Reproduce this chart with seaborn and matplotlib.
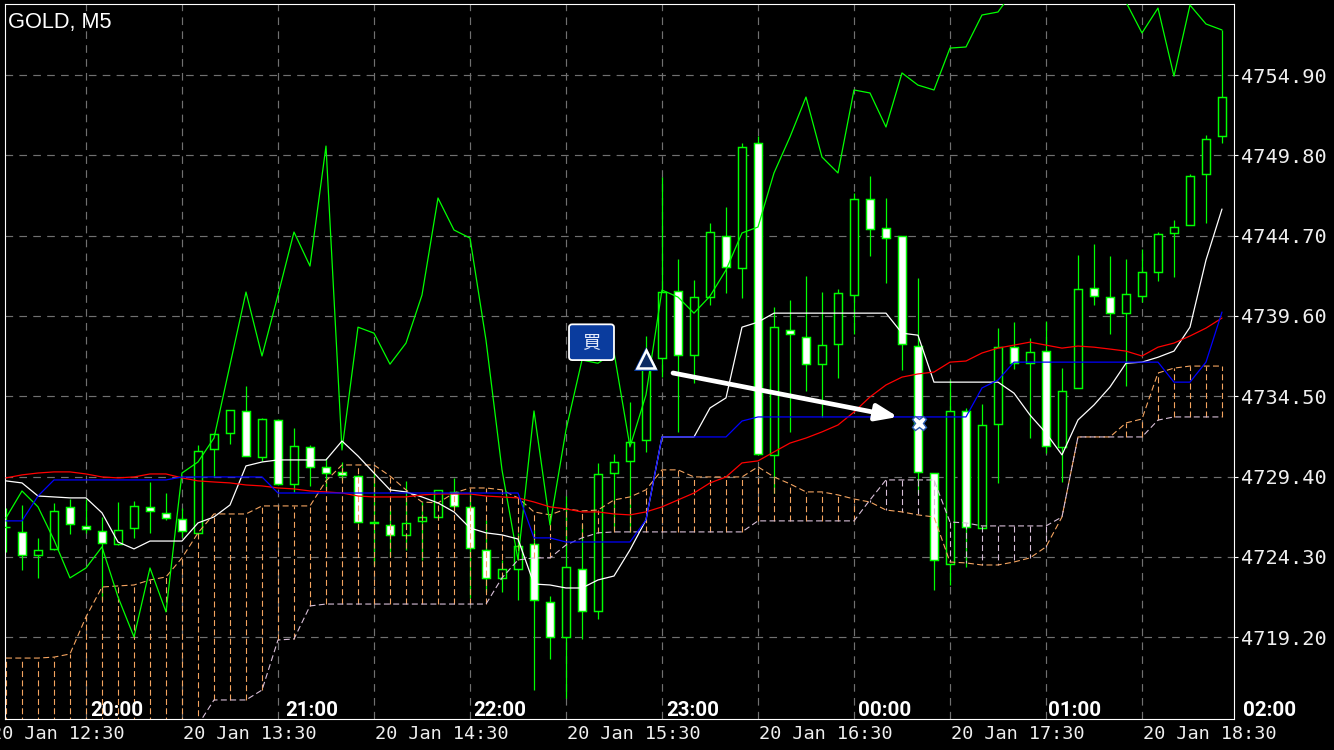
import matplotlib
matplotlib.use('Agg')
import matplotlib.pyplot as plt
from matplotlib.patches import FancyBboxPatch
import numpy as np
import pandas as pd
import seaborn as sns

# GOLD M5 candles, oldest first
open_prices = [
    4726.21, 4725.89, 4724.43, 4724.81, 4727.48, 4726.27, 4725.95, 4725.13, 4726.14, 4727.48, 4727.10,
    4726.71, 4725.83, 4731.16, 4732.17, 4733.57, 4730.65, 4733.00, 4728.94, 4731.29, 4730.02,
    4729.70, 4729.44, 4726.52, 4726.33, 4725.70, 4726.59, 4726.84, 4728.43, 4727.48, 4724.75,
    4722.97, 4723.54, 4725.13, 4721.44, 4719.22, 4723.54, 4720.87, 4729.63, 4730.40, 4731.73,
    4736.93, 4741.18, 4737.12, 4740.80, 4744.67, 4742.65, 4750.58, 4730.78, 4738.70, 4738.25,
    4736.54, 4737.82, 4740.93, 4747.02, 4745.18, 4744.67, 4737.69, 4729.63, 4723.86, 4733.57,
    4726.14, 4732.75, 4737.62, 4736.60, 4737.37, 4731.29, 4735.03, 4741.37, 4740.80, 4739.78,
    4740.86, 4742.39, 4744.87, 4745.37, 4748.61, 4751.02]
high_prices = [
    4727.41, 4727.60, 4725.51, 4727.73, 4727.98, 4727.98, 4726.84, 4727.79, 4727.86, 4729.06, 4728.36,
    4727.41, 4731.41, 4732.17, 4733.63, 4735.15, 4733.13, 4733.06, 4732.49, 4731.41, 4730.59,
    4730.33, 4729.51, 4729.83, 4727.28, 4729.13, 4727.79, 4728.56, 4729.32, 4728.56, 4726.65,
    4724.11, 4725.83, 4726.02, 4721.83, 4728.17, 4726.40, 4730.27, 4730.84, 4734.14, 4738.32,
    4748.42, 4743.21, 4741.88, 4745.50, 4746.52, 4750.58, 4751.02, 4740.17, 4740.61, 4742.14,
    4741.12, 4741.31, 4747.40, 4748.49, 4747.09, 4744.67, 4742.01, 4729.63, 4735.53, 4733.76,
    4734.02, 4738.83, 4739.21, 4738.19, 4739.28, 4736.29, 4743.47, 4744.17, 4743.41, 4743.21,
    4743.85, 4744.93, 4745.69, 4748.61, 4751.09, 4757.76]
low_prices = [
    4724.62, 4723.48, 4722.97, 4724.75, 4725.76, 4725.83, 4721.57, 4725.06, 4725.51, 4725.83, 4726.65,
    4725.57, 4725.70, 4729.38, 4731.47, 4730.71, 4730.40, 4728.87, 4728.43, 4728.81, 4728.56,
    4729.19, 4726.46, 4723.79, 4724.30, 4724.75, 4724.11, 4726.78, 4727.48, 4721.70, 4722.08,
    4722.08, 4721.57, 4715.85, 4717.82, 4715.35, 4719.09, 4720.36, 4726.02, 4725.89, 4730.97,
    4735.72, 4732.24, 4735.34, 4740.29, 4741.06, 4740.74, 4730.78, 4728.36, 4732.24, 4734.84,
    4733.19, 4735.66, 4738.45, 4743.41, 4741.69, 4736.17, 4728.36, 4722.21, 4722.52, 4723.67,
    4726.14, 4729.00, 4736.22, 4731.85, 4730.90, 4729.06, 4735.03, 4740.29, 4738.45, 4735.15,
    4740.48, 4741.82, 4742.07, 4745.37, 4745.50, 4750.58]
close_prices = [
    4726.21, 4724.43, 4724.75, 4727.22, 4726.40, 4726.08, 4725.19, 4726.02, 4727.54, 4727.22, 4726.78,
    4725.95, 4731.03, 4732.11, 4733.63, 4730.71, 4733.06, 4728.94, 4731.35, 4730.02, 4729.63,
    4729.51, 4726.52, 4726.46, 4725.70, 4726.46, 4726.84, 4728.56, 4727.54, 4724.87, 4722.97,
    4723.54, 4725.00, 4721.57, 4719.22, 4723.67, 4720.87, 4729.57, 4730.33, 4731.60, 4736.80,
    4741.12, 4737.12, 4740.80, 4744.93, 4742.71, 4750.33, 4730.84, 4738.89, 4738.45, 4736.54,
    4737.75, 4741.06, 4747.02, 4745.12, 4744.55, 4737.82, 4729.70, 4724.11, 4733.57, 4726.21,
    4732.68, 4737.62, 4736.60, 4737.30, 4731.35, 4734.84, 4741.31, 4740.86, 4739.78, 4740.99,
    4742.39, 4744.80, 4745.25, 4748.49, 4750.83, 4753.50]

# Indicator lines
green_line = [
    4726.78, 4728.49, 4727.48, 4725.38, 4722.97, 4723.60, 4724.94, 4721.76, 4719.22, 4723.60, 4720.81,
    4729.63, 4730.33, 4731.85, 4736.49, 4741.12, 4737.06, 4740.93, 4744.93, 4742.77, 4750.39,
    4731.09, 4738.89, 4738.51, 4736.54, 4737.88, 4740.93, 4747.09, 4745.06, 4744.55, 4738.07,
    4729.83, 4724.11, 4733.57, 4726.33, 4732.36, 4736.80, 4736.60, 4737.30, 4731.29, 4734.59,
    4741.25, 4740.80, 4739.78, 4740.86, 4742.52, 4744.87, 4745.25, 4748.68, 4750.97, 4753.50,
    4749.69, 4748.68, 4753.95, 4753.76, 4751.60, 4755.03, 4754.26, 4753.95, 4756.61, 4756.68,
    4758.71, 4758.90, 4760.30, 4760.80, 4761.20, 4761.00, 4760.60, 4760.90, 4760.50, 4759.53,
    4757.57, 4759.15, 4754.83, 4759.34, 4758.14, 4757.76]
white_line = [
    4729.13, 4729.00, 4728.17, 4728.11, 4728.05, 4728.05, 4727.10, 4725.25, 4724.81, 4725.31, 4725.31,
    4725.31, 4726.46, 4726.84, 4727.60, 4730.08, 4730.33, 4730.46, 4730.46, 4730.46, 4730.46,
    4731.66, 4730.71, 4729.63, 4728.56, 4728.43, 4728.11, 4727.73, 4727.16, 4726.14, 4725.83,
    4725.70, 4725.44, 4722.58, 4722.52, 4722.33, 4722.33, 4722.84, 4723.09, 4724.75, 4726.65,
    4731.92, 4731.92, 4731.92, 4733.76, 4734.40, 4738.89, 4739.21, 4739.78, 4739.78, 4739.78,
    4739.78, 4739.78, 4739.78, 4739.78, 4739.78, 4738.51, 4738.38, 4735.40, 4735.40, 4735.40,
    4735.40, 4735.40, 4734.70, 4733.31, 4732.17, 4730.78, 4733.00, 4733.95, 4735.09, 4736.60,
    4736.67, 4736.98, 4737.37, 4738.89, 4743.15, 4746.39]
blue_line = [
    4726.59, 4726.59, 4728.17, 4729.19, 4729.19, 4729.19, 4729.19, 4729.19, 4729.19, 4729.19, 4729.19,
    4729.38, 4729.38, 4729.38, 4729.38, 4729.38, 4729.38, 4728.36, 4728.36, 4728.36, 4728.36,
    4728.36, 4728.36, 4728.36, 4728.36, 4728.36, 4728.36, 4728.36, 4728.36, 4728.36, 4728.36,
    4728.36, 4728.36, 4725.51, 4725.51, 4725.25, 4725.25, 4725.25, 4725.25, 4725.25, 4726.65,
    4731.92, 4731.92, 4731.92, 4731.92, 4731.92, 4732.93, 4733.19, 4733.19, 4733.19, 4733.19,
    4733.19, 4733.19, 4733.19, 4733.19, 4733.19, 4733.19, 4733.19, 4733.19, 4733.19, 4733.19,
    4735.03, 4735.53, 4736.67, 4736.67, 4736.67, 4736.67, 4736.67, 4736.67, 4736.67, 4736.67,
    4736.67, 4736.67, 4735.40, 4735.40, 4736.67, 4739.85]
red_line = [
    4729.32, 4729.51, 4729.63, 4729.70, 4729.70, 4729.57, 4729.38, 4729.32, 4729.38, 4729.57, 4729.57,
    4729.32, 4729.13, 4729.06, 4729.00, 4728.87, 4728.81, 4728.68, 4728.62, 4728.49, 4728.43,
    4728.36, 4728.17, 4728.11, 4728.11, 4728.11, 4728.24, 4728.30, 4728.30, 4728.30, 4728.17,
    4728.11, 4728.05, 4727.79, 4727.48, 4727.35, 4727.16, 4727.16, 4727.03, 4726.97, 4727.16,
    4727.48, 4727.92, 4728.36, 4729.00, 4729.38, 4730.27, 4730.40, 4730.97, 4731.53, 4731.85,
    4732.24, 4732.68, 4733.50, 4734.46, 4735.22, 4735.72, 4735.92, 4736.04, 4736.67, 4736.74,
    4737.25, 4737.56, 4737.75, 4737.94, 4737.75, 4737.56, 4737.69, 4737.62, 4737.50, 4737.37,
    4737.06, 4737.62, 4737.88, 4738.33, 4738.83, 4739.47]
# Cloud edges (first pale values sit below the visible range, estimated)
orange_span = [
    4717.88, 4717.88, 4717.88, 4717.94, 4718.14, 4720.49, 4722.39, 4722.46, 4722.52, 4722.84, 4723.03,
    4724.24, 4725.83, 4727.03, 4727.03, 4727.03, 4727.54, 4727.54, 4727.54, 4727.54, 4729.13,
    4730.14, 4730.14, 4730.14, 4729.44, 4728.56, 4727.79, 4727.73, 4728.36, 4728.68, 4728.68,
    4728.56, 4728.05, 4727.16, 4726.97, 4727.35, 4727.22, 4727.28, 4727.92, 4728.11, 4728.56,
    4729.83, 4729.83, 4729.38, 4729.38, 4729.38, 4729.38, 4730.02, 4729.38, 4728.94, 4728.43,
    4728.43, 4728.24, 4727.98, 4727.79, 4727.28, 4727.16, 4726.97, 4726.84, 4723.98, 4723.92,
    4723.79, 4723.79, 4723.98, 4724.24, 4724.94, 4726.84, 4731.92, 4731.92, 4731.92, 4732.81,
    4733.06, 4735.98, 4736.29, 4736.42, 4736.42, 4736.42]
pale_span = [
    4711.40, 4711.40, 4711.40, 4711.40, 4711.40, 4711.40, 4711.40, 4711.40, 4711.40, 4711.40, 4711.40,
    4711.40, 4713.63, 4715.22, 4715.22, 4715.22, 4715.85, 4719.03, 4719.09, 4721.19, 4721.31,
    4721.31, 4721.31, 4721.31, 4721.31, 4721.31, 4721.31, 4721.31, 4721.31, 4721.31, 4721.31,
    4722.97, 4724.11, 4724.24, 4724.24, 4725.06, 4725.51, 4725.83, 4725.89, 4725.89, 4725.89,
    4725.89, 4725.89, 4725.89, 4725.89, 4725.89, 4725.89, 4726.59, 4726.59, 4726.59, 4726.59,
    4726.59, 4726.59, 4726.59, 4727.92, 4729.19, 4729.19, 4729.19, 4729.19, 4726.52, 4726.46,
    4726.27, 4726.27, 4726.27, 4726.27, 4726.27, 4726.84, 4731.92, 4731.92, 4731.92, 4731.92,
    4731.92, 4732.99, 4733.19, 4733.19, 4733.19, 4733.19]

price_ticks = [4754.90, 4749.80, 4744.70, 4739.60, 4734.50, 4729.40, 4724.30, 4719.20]
grid_bars = [5, 11, 17, 23, 29, 35, 41, 47, 53, 59, 65, 71]
date_bars = [-1, 11, 23, 35, 47, 59, 71]
date_labels = ['20 Jan 12:30', '20 Jan 13:30', '20 Jan 14:30', '20 Jan 15:30',
               '20 Jan 16:30', '20 Jan 17:30', '20 Jan 18:30']
session_bars = [5.25, 17.44, 29.19, 41.25, 53.25, 65.1, 77.31]
session_labels = ['20:00', '21:00', '22:00', '23:00', '00:00', '01:00', '02:00']

# The trade: entry, exit, the tag and the arrow drawn between them
buy_bar, buy_price = 40, 4736.90
sell_bar, sell_price = 57.06, 4732.80
tag_left, tag_right = 35.19, 38.0
tag_low, tag_high = 4736.80, 4739.07
arrow_from = (41.69, 4735.98)
arrow_to = (55.75, 4733.19)

LIME = '#00ff00'
ORANGE = '#f4a460'
PALE = '#d8bfd8'
WIDTH, HEIGHT = 1334, 750

sns.set_style('dark', rc={'axes.facecolor': 'black', 'figure.facecolor': 'black',
                          'axes.edgecolor': 'white', 'axes.linewidth': 0.9})
plt.rcParams['lines.scale_dashes'] = False
plt.rcParams['font.family'] = ['DejaVu Sans Mono', 'DejaVu Sans']

df = pd.DataFrame({'bar': np.arange(len(open_prices)), 'open': open_prices, 'high': high_prices,
                   'low': low_prices, 'close': close_prices, 'green': green_line, 'white': white_line,
                   'blue': blue_line, 'red': red_line, 'orange': orange_span, 'pale': pale_span})

fig = plt.figure(figsize=(WIDTH / 100, HEIGHT / 100), dpi=100)
ax = fig.add_axes([4.7 / WIDTH, 1 - 718.7 / HEIGHT, (1234.3 - 4.7) / WIDTH, (718.7 - 4.3) / HEIGHT])
ax.set_xlim(-0.081, 76.77)
ax.set_ylim(4714.03, 4759.39)

# dashed grid
for p in price_ticks:
    ax.axhline(p, color='#707070', lw=0.85, ls=(0, (5.5, 4.5)), zorder=1)
for b in grid_bars:
    ax.axvline(b, color='#707070', lw=0.85, ls=(0, (5.5, 4.5)), zorder=1)

# candles
ax.vlines(df['bar'], df['low'], df['high'], color=LIME, lw=0.9, zorder=2)
body_low = df[['open', 'close']].min(axis=1)
body_high = df[['open', 'close']].max(axis=1)
face = np.where(df['close'] < df['open'], 'white', 'black')
ax.bar(df['bar'], body_high - body_low, bottom=body_low, width=0.5, color=face,
       edgecolor=LIME, linewidth=1.05, zorder=3)

# cloud hatching, coloured by whichever edge is on top
hatch_colors = np.where(df['orange'] > df['pale'], ORANGE, PALE)
ax.vlines(df['bar'], df['pale'], df['orange'], colors=hatch_colors, lw=0.8,
          linestyles=[(0, (4.3, 2.4))], zorder=4)

sns.lineplot(data=df, x='bar', y='orange', color=ORANGE, lw=0.8, ls=(0, (4.3, 2.4)), estimator=None,
             errorbar=None, sort=False, ax=ax, zorder=4)
sns.lineplot(data=df, x='bar', y='pale', color=PALE, lw=0.8, ls=(0, (4.3, 2.4)), estimator=None,
             errorbar=None, sort=False, ax=ax, zorder=4)
for col, colour in [('green', LIME), ('white', 'white'), ('red', '#ff0000'), ('blue', '#0000ff')]:
    sns.lineplot(data=df, x='bar', y=col, color=colour, lw=0.9, estimator=None,
                 errorbar=None, sort=False, ax=ax, zorder=5)

# trade markers
ax.annotate('', xy=arrow_to, xytext=arrow_from, zorder=7,
            arrowprops=dict(arrowstyle='-|>,head_length=13,head_width=5', mutation_scale=1,
                            color='white', lw=3.4, shrinkA=0, shrinkB=0))
ax.plot([buy_bar], [buy_price], marker='^', ms=17, mfc='#0a3c9e', mec='#0a3c9e', mew=0, zorder=8)
ax.plot([buy_bar], [buy_price], marker='^', ms=13.5, mfc='#0c2a62', mec='white', mew=1.8, zorder=9)
ax.plot([sell_bar], [sell_price], marker='X', ms=10.5, mfc='white', mec='#2a5ab0', mew=1.0, zorder=9)
ax.add_patch(FancyBboxPatch((tag_left, tag_low), tag_right - tag_left, tag_high - tag_low,
                            boxstyle='round,pad=0,rounding_size=0.2', mutation_aspect=1.0,
                            fc='#0a3c9e', ec='white', lw=1.3, zorder=9))
ax.text((tag_left + tag_right) / 2, (tag_low + tag_high) / 2, '\u8cb7', color='#e8eefc', fontsize=13,
        ha='center', va='center', family=['Noto Sans CJK JP', 'DejaVu Sans'], zorder=10)

# axes dressing
ax.yaxis.tick_right()
ax.set_yticks(price_ticks)
ax.set_yticklabels([f'{p:.2f}' for p in price_ticks], color='#f0f0f0', fontsize=14.6)
ax.tick_params(axis='y', colors='white', length=3, width=0.8, pad=2, labelcolor='#f0f0f0')
ax.set_xticks([b for b in date_bars if b >= 0])
ax.set_xticklabels([])
ax.tick_params(axis='x', colors='white', length=3, width=0.8)
ax.set_xlabel('')
ax.set_ylabel('')
ax.grid(False)
for spine in ax.spines.values():
    spine.set_visible(True)
    spine.set_color('white')

for b, label in zip(date_bars, date_labels):
    ax.annotate(label, xy=(b + 0.06, -0.0284), xycoords=('data', 'axes fraction'), color='#f0f0f0',
                fontsize=13.3, ha='left', va='baseline', annotation_clip=False)
for b, label in zip(session_bars, session_labels):
    ax.annotate(label, xy=(b, 0.0038), xycoords=('data', 'axes fraction'), color='white',
                fontsize=14.8, family='Roboto', fontweight='bold', ha='left', va='baseline',
                annotation_clip=False, zorder=10)
ax.text(8 / WIDTH, 1 - 28 / HEIGHT, 'GOLD, M5', transform=fig.transFigure, color='white',
        fontsize=15.7, family='Liberation Sans', ha='left', va='baseline', zorder=10)

fig.savefig('out.png', dpi=100, facecolor='black')
